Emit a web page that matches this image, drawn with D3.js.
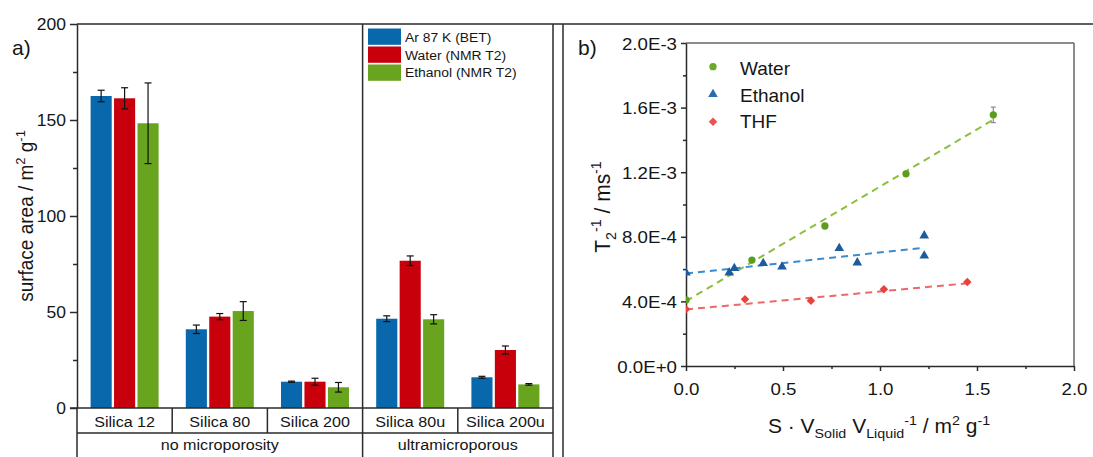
<!DOCTYPE html>
<html>
<head>
<meta charset="utf-8">
<script src="https://cdn.jsdelivr.net/npm/d3@7"></script>
<style>
  body { margin: 0; background: #fff; }
  svg { display: block; }
  text { font-family: "Liberation Sans", Arial, sans-serif; fill: #151515; }
</style>
</head>
<body>
<svg id="fig" width="1093" height="457"></svg>
<script>
// ---- panel a: surface areas ----
const categories = ["Silica 12", "Silica 80", "Silica 200", "Silica 80u", "Silica 200u"];
const groupLabels = ["no microporosity", "ultramicroporous"];
const groupSizes = [3, 2];
const seriesNames = ["Ar 87 K (BET)", "Water (NMR T2)", "Ethanol (NMR T2)"];
const arValues = [162.5, 41.0, 13.7, 46.5, 16.0];
const arErrors = [3.0, 2.2, 0.3, 1.5, 0.5];
const waterValues = [161.3, 47.6, 13.7, 76.7, 30.2];
const waterErrors = [5.5, 1.6, 1.8, 2.5, 2.1];
const ethanolValues = [148.3, 50.5, 10.8, 46.2, 12.3];
const ethanolErrors = [21.0, 4.9, 2.5, 2.4, 0.4];
const areaTicks = [0, 50, 100, 150, 200];
const areaMinorTicks = [25, 75, 125, 175];

// ---- panel b: relaxation rates ----
const waterX = [0, 0.34, 0.716, 1.134, 1.584];
const waterY = [4.09e-4, 6.56e-4, 8.67e-4, 1.19e-3, 1.555e-3];
const waterYErr = [0, 0, 0, 0, 4.8e-5];
const ethanolX = [0, 0.223, 0.249, 0.398, 0.495, 0.79, 0.883, 1.228, 1.228];
const ethanolY = [5.78e-4, 5.78e-4, 6.05e-4, 6.36e-4, 6.15e-4, 7.29e-4, 6.4e-4, 8.07e-4, 6.83e-4];
const thfX = [0, 0.304, 0.644, 1.02, 1.45];
const thfY = [3.51e-4, 4.13e-4, 4.04e-4, 4.75e-4, 5.2e-4];
// linear fits, as end points
const waterFitX = [0, 1.58];
const waterFitY = [4.02e-4, 1.522e-3];
const ethanolFitX = [0, 1.23];
const ethanolFitY = [5.72e-4, 7.33e-4];
const thfFitX = [0, 1.45];
const thfFitY = [3.5e-4, 5.12e-4];
const rateTicks = [0, 4e-4, 8e-4, 1.2e-3, 1.6e-3, 2e-3];
const rateMinorTicks = [2e-4, 6e-4, 1e-3, 1.4e-3, 1.8e-3];
const ratioTicks = [0, 0.5, 1.0, 1.5, 2.0];
const ratioMinorTicks = [0.25, 0.75, 1.25, 1.75];

const barColors = ["#0868ab", "#c7000b", "#69a41e"];
const dark = "#2a2a2a";

const svg = d3.select("#fig");

// text helper: position, optional horizontal stretch and rotation, rich parts
function label(g, x, y, parts, size, anchor, sx = 1, rot = 0) {
  const t = g.append("text")
    .attr("transform", `translate(${x},${y}) scale(${sx},1)` + (rot ? ` rotate(${rot})` : ""))
    .attr("font-size", size)
    .attr("text-anchor", anchor);
  if (typeof parts === "string") parts = [{ t: parts }];
  let shift = 0;
  parts.forEach(p => {
    const target = p.sup ? -0.42 * size : p.sub ? 0.25 * size : 0;
    const ts = t.append("tspan").text(p.t).attr("dy", target - shift);
    if (p.sup || p.sub) ts.attr("font-size", size * 0.68);
    shift = target;
  });
  return t;
}

function hline(x1, x2, y, color = dark, w = 1.5) {
  svg.append("line").attr("x1", x1).attr("x2", x2).attr("y1", y).attr("y2", y)
    .attr("stroke", color).attr("stroke-width", w);
}
function vline(x, y1, y2, color = dark, w = 1.5) {
  svg.append("line").attr("x1", x).attr("x2", x).attr("y1", y1).attr("y2", y2)
    .attr("stroke", color).attr("stroke-width", w);
}

// ================= panel a =================
const xA = d3.scaleBand().domain(categories).range([77, 553]);
const yA = d3.scaleLinear().domain([0, 200]).range([408, 24]);
const xS = d3.scaleBand().domain(seriesNames).range([0, 68]).paddingInner(0.1);

const seriesValues = [arValues, waterValues, ethanolValues];
const seriesErrors = [arErrors, waterErrors, ethanolErrors];

const barsG = svg.append("g");
seriesNames.forEach((s, i) => {
  const rows = categories.map((c, j) => ({ c, v: seriesValues[i][j], e: seriesErrors[i][j] }));
  const gx = d => xA(d.c) + xA.bandwidth() / 2 - 34 + xS(s);
  barsG.selectAll(null).data(rows).enter().append("rect")
    .attr("x", gx).attr("width", xS.bandwidth())
    .attr("y", d => yA(d.v)).attr("height", d => yA(0) - yA(d.v))
    .attr("fill", barColors[i]);
  const eg = barsG.selectAll(null).data(rows).enter().append("g")
    .attr("stroke", "#111").attr("stroke-width", 1.2);
  eg.append("line")
    .attr("x1", d => gx(d) + xS.bandwidth() / 2).attr("x2", d => gx(d) + xS.bandwidth() / 2)
    .attr("y1", d => yA(d.v - d.e)).attr("y2", d => yA(d.v + d.e));
  [-1, 1].forEach(k => {
    eg.append("line")
      .attr("x1", d => gx(d) + xS.bandwidth() / 2 - 3.5).attr("x2", d => gx(d) + xS.bandwidth() / 2 + 3.5)
      .attr("y1", d => yA(d.v + k * d.e)).attr("y2", d => yA(d.v + k * d.e));
  });
});

// left axis
const axA = svg.append("g").attr("transform", "translate(77,0)")
  .call(d3.axisLeft(yA).tickValues(areaTicks).tickSize(7).tickSizeOuter(0));
axA.select(".domain").attr("stroke", dark).attr("stroke-width", 1.5);
axA.selectAll(".tick line").attr("stroke", dark).attr("stroke-width", 1.5);
axA.selectAll(".tick text").attr("x", null).attr("dy", "0.36em")
  .attr("transform", "translate(-11,0) scale(1.06,1)")
  .attr("font-size", 16.5).attr("fill", "#151515");
const axAm = svg.append("g").attr("transform", "translate(77,0)")
  .call(d3.axisLeft(yA).tickValues(areaMinorTicks).tickSize(4).tickFormat(""));
axAm.select(".domain").remove();
axAm.selectAll(".tick line").attr("stroke", dark).attr("stroke-width", 1.5);

// frame lines and category table
hline(77, 1093, 24);
hline(70, 553, 408);
hline(77, 553, 433);
vline(77, 408, 457);
vline(553, 24, 457);
vline(563, 24, 457);
let idx = 0;
const groupEdges = [];
groupSizes.forEach(n => {
  const x0 = xA(categories[idx]);
  const x1 = xA(categories[idx + n - 1]) + xA.bandwidth();
  groupEdges.push([x0, x1]);
  idx += n;
});
groupEdges.slice(1).forEach(e => vline(e[0], 24, 457));
categories.forEach((c, j) => {
  if (j > 0 && !groupEdges.some(e => Math.abs(e[0] - xA(c)) < 0.5)) vline(xA(c), 408, 433);
  label(svg, xA(c) + xA.bandwidth() / 2, 426.5, c, 15.5, "middle", 1.04);
});
groupLabels.forEach((g, gi) => {
  label(svg, (groupEdges[gi][0] + groupEdges[gi][1]) / 2, 450, g, 15.5, "middle", 1.04);
});

// legend
seriesNames.forEach((s, i) => {
  svg.append("rect").attr("x", 368).attr("y", 28.5 + i * 18).attr("width", 33).attr("height", 16.3)
    .attr("fill", barColors[i]);
  label(svg, 405, 42 + i * 17.6, s, 13.5, "start", 1.03);
});

// titles
label(svg, 12, 55, "a)", 21, "start");
label(svg, 33, 216, [{ t: "surface area / m" }, { t: "2", sup: true }, { t: " g" }, { t: "-1", sup: true }],
  19, "middle", 1.05, -90);

// ================= panel b =================
const xB = d3.scaleLinear().domain([0, 2]).range([686, 1074]);
const yB = d3.scaleLinear().domain([0, 2e-3]).range([366, 43]);

// frame top/right
hline(686, 1074, 43, "#666", 1.5);
vline(1074, 43, 366, "#666", 1.5);

const axBx = svg.append("g").attr("transform", "translate(0,366)")
  .call(d3.axisBottom(xB).tickValues(ratioTicks).tickSize(5).tickSizeOuter(0).tickFormat(d3.format(".1f")));
axBx.select(".domain").attr("stroke", dark).attr("stroke-width", 1.5);
axBx.selectAll(".tick line").attr("stroke", dark).attr("stroke-width", 1.5);
axBx.selectAll(".tick text").attr("y", null).attr("dy", null)
  .attr("transform", "translate(0,29) scale(1.1,1)").attr("font-size", 17).attr("fill", "#151515");
const axBxm = svg.append("g").attr("transform", "translate(0,366)")
  .call(d3.axisBottom(xB).tickValues(ratioMinorTicks).tickSize(3).tickFormat(""));
axBxm.select(".domain").remove();
axBxm.selectAll(".tick line").attr("stroke", dark).attr("stroke-width", 1.5);

const sciFmt = d => d3.format(".1e")(d).toUpperCase();
const axBy = svg.append("g").attr("transform", "translate(686,0)")
  .call(d3.axisLeft(yB).tickValues(rateTicks).tickSize(5).tickSizeOuter(0).tickFormat(sciFmt));
axBy.select(".domain").attr("stroke", dark).attr("stroke-width", 1.5);
axBy.selectAll(".tick line").attr("stroke", dark).attr("stroke-width", 1.5);
axBy.selectAll(".tick text").attr("x", null).attr("dy", "0.36em")
  .attr("transform", "translate(-9,0) scale(1.1,1)").attr("font-size", 17).attr("fill", "#151515");
const axBym = svg.append("g").attr("transform", "translate(686,0)")
  .call(d3.axisLeft(yB).tickValues(rateMinorTicks).tickSize(3).tickFormat(""));
axBym.select(".domain").remove();
axBym.selectAll(".tick line").attr("stroke", dark).attr("stroke-width", 1.5);

// plot area clip
svg.append("defs").append("clipPath").attr("id", "plotB")
  .append("rect").attr("x", 686).attr("y", 43).attr("width", 388).attr("height", 323);
const plotB = svg.append("g").attr("clip-path", "url(#plotB)");

const line = d3.line().x(d => xB(d[0])).y(d => yB(d[1]));
const fits = [
  { x: waterFitX, y: waterFitY, c: "#8cbf3c" },
  { x: ethanolFitX, y: ethanolFitY, c: "#3a8bcf" },
  { x: thfFitX, y: thfFitY, c: "#ef6767" }
];
fits.forEach(f => {
  plotB.append("path").attr("d", line(d3.zip(f.x, f.y)))
    .attr("fill", "none").attr("stroke", f.c).attr("stroke-width", 2)
    .attr("stroke-dasharray", "7,5");
});

const symCircle = d3.symbol().type(d3.symbolCircle).size(42)();
const symTri = d3.symbol().type(d3.symbolTriangle).size(40)();
const symDiamond = d3.symbol().type(d3.symbolSquare).size(36)();

// water error bars
d3.zip(waterX, waterY, waterYErr).filter(d => d[2] > 0).forEach(d => {
  const g = plotB.append("g").attr("stroke", "#8a8a8a").attr("stroke-width", 1.2);
  g.append("line").attr("x1", xB(d[0])).attr("x2", xB(d[0])).attr("y1", yB(d[1] - d[2])).attr("y2", yB(d[1] + d[2]));
  [-1, 1].forEach(k => g.append("line").attr("x1", xB(d[0]) - 2.5).attr("x2", xB(d[0]) + 2.5)
    .attr("y1", yB(d[1] + k * d[2])).attr("y2", yB(d[1] + k * d[2])));
});

const scatter = [
  { x: thfX, y: thfY, p: symDiamond, c: "#e8423d", rot: 45 },
  { x: ethanolX, y: ethanolY, p: symTri, c: "#1d5c9c", rot: 0 },
  { x: waterX, y: waterY, p: symCircle, c: "#5c9e1c", rot: 0 }
];
scatter.forEach(s => {
  plotB.selectAll(null).data(d3.zip(s.x, s.y)).enter().append("path")
    .attr("d", s.p)
    .attr("transform", d => `translate(${xB(d[0])},${yB(d[1])}) rotate(${s.rot})`)
    .attr("fill", s.c);
});

// legend b
const legB = [
  { name: "Water", p: symCircle, c: "#6aab2a", rot: 0 },
  { name: "Ethanol", p: symTri, c: "#2a6cb3", rot: 0 },
  { name: "THF", p: symDiamond, c: "#ec5250", rot: 45 }
];
const legMarkY = [66.7, 94.3, 121.7];
const legTextY = [75, 101.7, 128];
legB.forEach((l, i) => {
  svg.append("path").attr("d", l.p)
    .attr("transform", `translate(713,${legMarkY[i]}) rotate(${l.rot})`).attr("fill", l.c);
  label(svg, 740, legTextY[i], l.name, 19, "start");
});

label(svg, 578, 55, "b)", 21, "start");
label(svg, 610, 207, [{ t: "T" }, { t: "2", sub: true }, { t: "-1", sup: true }, { t: " / ms" }, { t: "-1", sup: true }],
  21, "middle", 1.05, -90);
label(svg, 879, 433, [{ t: "S · V" }, { t: "Solid", sub: true }, { t: " V" }, { t: "Liquid", sub: true },
  { t: "-1", sup: true }, { t: " / m" }, { t: "2", sup: true }, { t: " g" }, { t: "-1", sup: true }],
  20, "middle", 1.05);
</script>
</body>
</html>
